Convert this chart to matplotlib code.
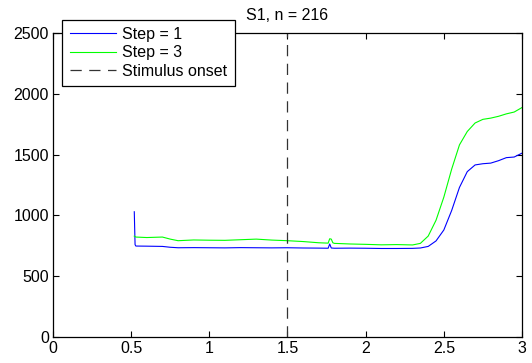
import matplotlib
matplotlib.use("Agg")
import matplotlib.pyplot as plt

plt.rcParams['font.family'] = ['Liberation Sans', 'DejaVu Sans']

# mean response per step (time in s, value)
t_step1 = [0.52, 0.525, 0.53, 0.6, 0.7, 0.75, 0.8, 0.9, 1.0, 1.1, 1.2, 1.3, 1.4,
           1.5, 1.6, 1.7, 1.76, 1.77, 1.78, 1.8, 1.9, 2.0, 2.1, 2.2, 2.3, 2.35,
           2.4, 2.45, 2.5, 2.55, 2.6, 2.65, 2.7, 2.75, 2.8, 2.85, 2.9, 2.95, 3.0]
v_step1 = [1030, 760, 748, 747, 745, 738, 734, 735, 734, 733, 735, 734, 733,
           734, 732, 731, 730, 765, 732, 730, 731, 730, 728, 728, 729, 732,
           745, 790, 880, 1040, 1230, 1360, 1415, 1425, 1430, 1450, 1475, 1480, 1512]

t_step3 = [0.52, 0.53, 0.6, 0.7, 0.75, 0.8, 0.9, 1.0, 1.1, 1.2, 1.3, 1.4, 1.5,
           1.6, 1.7, 1.76, 1.77, 1.78, 1.79, 1.8, 1.9, 2.0, 2.1, 2.2, 2.3, 2.35,
           2.4, 2.45, 2.5, 2.55, 2.6, 2.65, 2.7, 2.75, 2.8, 2.85, 2.9, 2.95, 3.0]
v_step3 = [830, 822, 818, 822, 805, 792, 798, 796, 795, 800, 805, 797, 792,
           785, 775, 772, 808, 805, 775, 770, 765, 762, 758, 760, 757, 770,
           830, 960, 1150, 1380, 1580, 1690, 1760, 1790, 1800, 1815, 1835, 1850, 1887]

onset = 1.5
title = "S1, n = 216"

fig = plt.figure(figsize=(5.32, 3.63), dpi=100)
ax = fig.add_axes([0.0996, 0.0716, 0.8816, 0.8375])

ax.plot(t_step1, v_step1, color='#0000ff', lw=0.8, label='Step = 1')
ax.plot(t_step3, v_step3, color='#00ff00', lw=0.8, label='Step = 3')
ax.axvline(onset, color='#333333', lw=0.9, ls=(0, (9, 6)), label='Stimulus onset')

ax.set_xlim(0, 3)
ax.set_ylim(0, 2500)
ax.set_xticks([0, 0.5, 1, 1.5, 2, 2.5, 3])
ax.set_xticklabels(['0', '0.5', '1', '1.5', '2', '2.5', '3'])
ax.set_yticks([0, 500, 1000, 1500, 2000, 2500])
ax.tick_params(direction='in', top=True, right=True, length=4, width=0.8,
               labelsize=11.5, pad=3)
for s in ax.spines.values():
    s.set_linewidth(0.9)
ax.set_title(title, fontsize=11.5, pad=9)

leg = ax.legend(loc='upper left', bbox_to_anchor=(0.02, 1.044), borderaxespad=0,
                fontsize=11.5, fancybox=False, framealpha=1, edgecolor='black',
                handlelength=2.9, handletextpad=0.4, labelspacing=0.22,
                borderpad=0.45)
leg.get_frame().set_linewidth(0.9)
leg.set_zorder(5)

fig.savefig('out.png', dpi=100)
